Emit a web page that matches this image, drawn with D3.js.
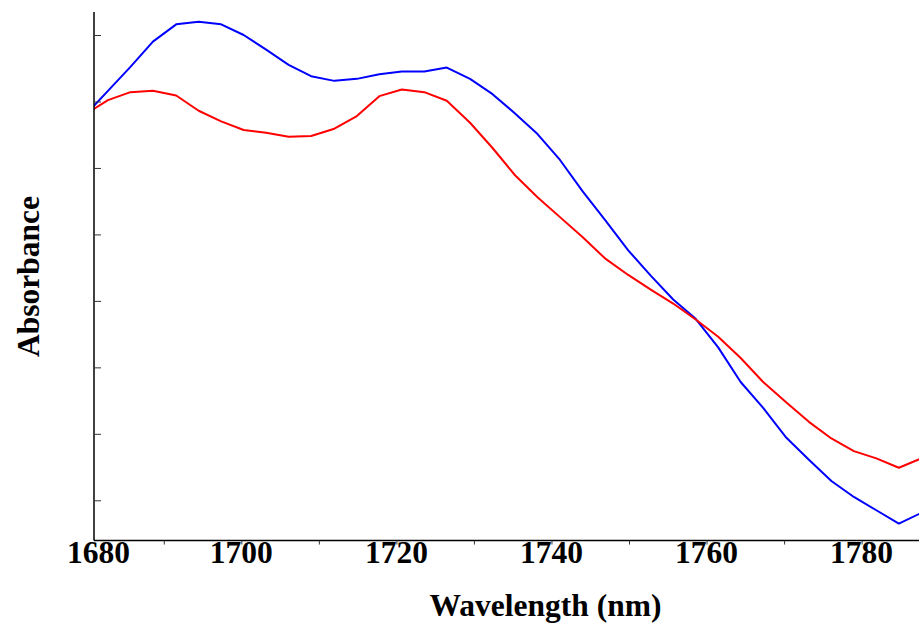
<!DOCTYPE html>
<html>
<head>
<meta charset="utf-8">
<script src="https://cdn.jsdelivr.net/npm/d3@7/dist/d3.min.js"></script>
<style>
  html, body { margin: 0; padding: 0; background: #fff; }
  svg { display: block; }
  text { font-family: "Liberation Serif", "Times New Roman", serif; font-weight: bold; }
</style>
</head>
<body>
<svg id="chart" width="919" height="628"></svg>
<script>
// wavelength grid (nm)
var wavelengths = [1679.9, 1682.8, 1685.7, 1688.6, 1691.6, 1694.5, 1697.4, 1700.3, 1703.2, 1706.1,
                   1709.0, 1712.0, 1714.9, 1717.8, 1720.7, 1723.6, 1726.5, 1729.5, 1732.4, 1735.3,
                   1738.2, 1741.1, 1744.0, 1746.9, 1749.9, 1752.8, 1755.7, 1758.6, 1761.5, 1764.4,
                   1767.3, 1770.3, 1773.2, 1776.1, 1779.0, 1781.9, 1784.8, 1787.7];

// absorbance (arbitrary units, axis is unlabelled)
var blueSeries = [0.680, 0.716, 0.752, 0.790, 0.816, 0.820, 0.816, 0.800, 0.778, 0.755,
                  0.738, 0.731, 0.734, 0.741, 0.745, 0.745, 0.751, 0.734, 0.711, 0.682,
                  0.651, 0.612, 0.565, 0.522, 0.476, 0.438, 0.402, 0.373, 0.330, 0.278,
                  0.239, 0.194, 0.161, 0.129, 0.105, 0.085, 0.065, 0.081];
var redSeries  = [0.681, 0.702, 0.714, 0.716, 0.709, 0.686, 0.670, 0.657, 0.653, 0.647,
                  0.648, 0.659, 0.678, 0.708, 0.718, 0.714, 0.701, 0.668, 0.630, 0.589,
                  0.556, 0.526, 0.496, 0.464, 0.439, 0.417, 0.396, 0.372, 0.346, 0.314,
                  0.278, 0.247, 0.218, 0.193, 0.174, 0.163, 0.149, 0.163];

var xLabels = [1680, 1700, 1720, 1740, 1760, 1780];
var xMinor = [1690, 1710, 1730, 1750, 1770];
var yTicks = [0.1, 0.2, 0.3, 0.4, 0.5, 0.6, 0.7, 0.8];

// plot box (window.top is read-only, so keep these in an object)
var box = { left: 94, right: 919, top: 12, bottom: 540.5 };

var svg = d3.select('#chart');

var x = d3.scaleLinear().domain([1681, 1787.4]).range([box.left, box.right]);
var y = d3.scaleLinear().domain([0.0395, 0.8346]).range([box.bottom, box.top]);

svg.append('defs').append('clipPath').attr('id', 'plot')
    .append('rect')
    .attr('x', box.left).attr('y', 0)
    .attr('width', box.right - box.left).attr('height', box.bottom);

var line = d3.line()
    .x(function (d, i) { return x(wavelengths[i]); })
    .y(function (d) { return y(d); });

var traces = svg.append('g').attr('clip-path', 'url(#plot)');
traces.append('path')
    .datum(blueSeries)
    .attr('fill', 'none')
    .attr('stroke', '#0000ff')
    .attr('stroke-width', 2)
    .attr('stroke-linejoin', 'round')
    .attr('d', line);
traces.append('path')
    .datum(redSeries)
    .attr('fill', 'none')
    .attr('stroke', '#ff0000')
    .attr('stroke-width', 2)
    .attr('stroke-linejoin', 'round')
    .attr('d', line);

// y axis: ticks point inward, no labels
var yAxis = svg.append('g')
    .attr('transform', 'translate(' + box.left + ',0)')
    .call(d3.axisRight(y).tickValues(yTicks).tickSize(7).tickFormat(''));
yAxis.select('.domain').attr('d', 'M0,' + box.top + 'V' + box.bottom).attr('stroke', '#000').attr('stroke-width', 1.5);
yAxis.selectAll('.tick line').attr('stroke', '#333').attr('stroke-width', 1);

// x axis: small outward ticks every 20 nm between labels
var xAxis = svg.append('g')
    .attr('transform', 'translate(0,' + box.bottom + ')')
    .call(d3.axisBottom(x).tickValues(xMinor.concat(xLabels.slice(1))).tickSize(4).tickFormat(''));
xAxis.select('.domain').attr('d', 'M' + box.left + ',0H' + box.right).attr('stroke', '#000').attr('stroke-width', 1.5);
xAxis.selectAll('.tick line').attr('stroke', '#333').attr('stroke-width', 1);

svg.append('g').selectAll('text')
    .data(xLabels)
    .join('text')
    .attr('x', function (d) { return Math.max(x(d), box.left + 4.5); })
    .attr('y', 563)
    .attr('text-anchor', 'middle')
    .attr('font-size', 31.5)
    .attr('fill', '#000')
    .text(function (d) { return d; });

svg.append('text')
    .attr('x', 545.5)
    .attr('y', 616)
    .attr('text-anchor', 'middle')
    .attr('font-size', 31.5)
    .attr('fill', '#000')
    .text('Wavelength (nm)');

svg.append('text')
    .attr('transform', 'translate(38.5,276.5) rotate(-90)')
    .attr('text-anchor', 'middle')
    .attr('font-size', 31.5)
    .attr('fill', '#000')
    .text('Absorbance');
</script>
</body>
</html>
